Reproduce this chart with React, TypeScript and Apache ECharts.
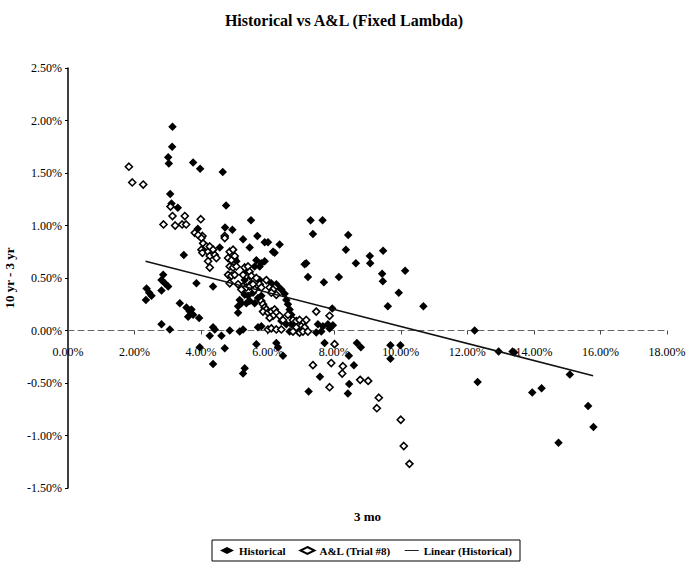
import React, { useEffect, useRef } from "react";
import * as echarts from "echarts";

// 3-month rate (%) vs 10yr - 3yr spread (%), observed history
const historical: number[][] = [
  [3.14, 1.94], [3.13, 1.75], [3.01, 1.65], [3.03, 1.59], [3.76, 1.6], [3.97, 1.54], [4.65, 1.51],
  [3.07, 1.3], [3.11, 1.21], [3.3, 1.17], [4.75, 1.19], [5.5, 1.05], [4.72, 0.98], [4.94, 0.96],
  [3.9, 0.97], [5.26, 0.87], [5.69, 0.9],
  [7.29, 1.05], [7.65, 1.05], [7.36, 0.92], [8.42, 0.91], [8.35, 0.77], [9.47, 0.76], [9.07, 0.71],
  [9.08, 0.64], [8.65, 0.64], [7.11, 0.63], [7.16, 0.64], [7.21, 0.51], [8.14, 0.51], [7.69, 0.46],
  [10.13, 0.57], [9.44, 0.54], [9.46, 0.47], [9.94, 0.36], [9.61, 0.23], [10.68, 0.23], [6.36, 0.82],
  [7.94, 0.21], [12.22, 0.0],
  [7.66, 0.04], [7.81, 0.06], [7.96, 0.05], [7.86, 0.02], [7.51, 0.06], [7.46, -0.02], [7.61, -0.01],
  [7.71, -0.12], [8.68, -0.12], [8.8, -0.16], [9.69, -0.14], [9.99, -0.14], [9.69, -0.27], [6.46, -0.24],
  [8.44, -0.24], [8.59, -0.33], [7.57, -0.44], [8.45, -0.51], [8.41, -0.6], [7.23, -0.58], [12.31, -0.49],
  [12.94, -0.2], [13.36, -0.2], [13.41, -0.21], [15.08, -0.42], [13.95, -0.59], [14.23, -0.55],
  [15.63, -0.72], [15.79, -0.92], [14.74, -1.07],
  [3.48, 0.72], [2.86, 0.53], [2.81, 0.48], [2.91, 0.45], [3.01, 0.42], [2.81, 0.38], [3.86, 0.45],
  [4.36, 0.42], [2.36, 0.4], [2.44, 0.36], [2.34, 0.29], [2.51, 0.33], [3.36, 0.26], [3.56, 0.22],
  [3.66, 0.18], [3.76, 0.15], [3.94, 0.12], [3.61, 0.13], [3.71, 0.2], [2.81, 0.06], [3.06, 0.01],
  [4.41, 0.01], [4.26, -0.05], [3.96, -0.16],
  [4.56, 0.79], [5.46, 0.79], [5.91, 0.84], [6.01, 0.84], [6.16, 0.75], [6.21, 0.74],
  [5.66, 0.67], [5.81, 0.64], [5.91, 0.66], [5.76, 0.61], [5.61, 0.61], [5.36, 0.58], [5.46, 0.52],
  [5.31, 0.48], [5.51, 0.45], [5.76, 0.48], [6.11, 0.45], [6.26, 0.44], [5.06, 0.66], [5.01, 0.69],
  [5.11, 0.17], [6.31, 0.42], [6.41, 0.39], [5.16, 0.29], [5.11, 0.23], [5.21, 0.26], [5.31, 0.34],
  [5.41, 0.33], [5.56, 0.36], [5.46, 0.28], [5.36, 0.26], [5.61, 0.26], [5.71, 0.31], [5.81, 0.33],
  [6.56, 0.29], [6.61, 0.25], [6.66, 0.2], [6.71, 0.15], [6.41, 0.09], [6.56, 0.06], [6.71, 0.06],
  [6.66, -0.01], [6.91, -0.01], [6.51, 0.35],
  [4.86, 0.0], [5.16, -0.01], [5.26, 0.01], [5.71, 0.03], [5.81, 0.04], [4.61, -0.05], [4.36, 0.03],
  [4.71, -0.17], [4.36, -0.32], [5.66, -0.13], [6.26, -0.12], [6.31, -0.16], [5.31, -0.36], [5.26, -0.41],
];

// Model output, A&L (Trial #8)
const alModel: number[][] = [
  [1.83, 1.56], [1.93, 1.41], [2.26, 1.39], [3.08, 1.18], [3.14, 1.09], [2.87, 1.01], [3.22, 1.0],
  [3.43, 1.01], [3.55, 1.01], [3.51, 1.09], [3.99, 1.06], [4.04, 0.9], [4.71, 0.9],
  [3.81, 0.93], [3.91, 0.91], [4.01, 0.88], [4.06, 0.83], [4.01, 0.77], [4.04, 0.74], [4.16, 0.8],
  [4.21, 0.75], [4.26, 0.71], [4.21, 0.66], [4.26, 0.6], [4.71, 0.88], [4.26, 0.8], [4.36, 0.77],
  [4.41, 0.72], [4.46, 0.69],
  [4.86, 0.75], [4.96, 0.77], [4.81, 0.69], [4.91, 0.67], [5.01, 0.71], [4.86, 0.61], [4.96, 0.6],
  [5.06, 0.61], [4.81, 0.53], [4.91, 0.52], [5.01, 0.53], [5.31, 0.6], [5.41, 0.61], [5.46, 0.56],
  [5.36, 0.52], [5.26, 0.53], [5.51, 0.52], [4.86, 0.45], [5.11, 0.44], [5.26, 0.42], [5.66, 0.5],
  [5.76, 0.44], [5.96, 0.48], [6.06, 0.41], [6.21, 0.41],
  [5.36, 0.41], [5.21, 0.39], [5.46, 0.42], [5.56, 0.44], [5.61, 0.39], [5.81, 0.41], [6.16, 0.39],
  [6.26, 0.34], [6.11, 0.36],
  [5.81, 0.28], [5.86, 0.25], [5.91, 0.22], [5.96, 0.2], [5.86, 0.18], [6.01, 0.17], [6.11, 0.18],
  [6.21, 0.2], [6.26, 0.17], [6.16, 0.14], [6.06, 0.12], [6.36, 0.14], [6.46, 0.1],
  [6.61, 0.15], [6.76, 0.1], [6.86, 0.09], [6.96, 0.1], [7.06, 0.07], [7.16, 0.1], [7.01, 0.04],
  [7.11, 0.03], [6.86, 0.03], [6.76, -0.01], [6.96, -0.02], [7.06, -0.01], [7.21, -0.01],
  [6.01, 0.01], [6.11, 0.02], [6.26, 0.01], [6.41, 0.01], [7.46, 0.18], [7.86, 0.14],
  [8.01, -0.13], [7.91, -0.31], [7.36, -0.33], [8.26, -0.34], [8.24, -0.41], [8.78, -0.47],
  [9.02, -0.48], [7.86, -0.54], [9.34, -0.64], [9.28, -0.74], [10.0, -0.85], [10.09, -1.1],
  [10.26, -1.27],
];

// Endpoints of the linear trend fitted to the historical series
const trendLine: number[][] = [
  [2.33, 0.66],
  [15.78, -0.43],
];

const seriesNames = ["Historical", "A&L (Trial #8)", "Linear (Historical)"];

const FONT = "'Liberation Serif', 'DejaVu Serif', serif";

// Plot box and value ranges
const GRID = { left: 68, right: 21, top: 68, bottom: 75 };
const Y_MIN = -1.5;
const Y_MAX = 2.5;
const CHART_H = 563;

export default function App() {
  const ref = useRef<HTMLDivElement>(null);

  useEffect(() => {
    if (!ref.current) return;
    const chart = echarts.init(ref.current, null, { renderer: "svg" });
    const pct = (v: number) => v.toFixed(2) + "%";
    // lift the x axis from the plot bottom up to the y = 0 line
    const plotH = CHART_H - GRID.top - GRID.bottom;
    const zeroLift = (plotH * (0 - Y_MIN)) / (Y_MAX - Y_MIN);
    chart.setOption({
      animation: false,
      backgroundColor: "#fff",
      textStyle: { fontFamily: FONT, color: "#000" },
      title: {
        text: "Historical vs A&L (Fixed Lambda)",
        left: "center",
        top: 7,
        textStyle: { fontFamily: FONT, fontSize: 16, fontWeight: "bold", color: "#000" },
      },
      legend: {
        data: [
          { name: seriesNames[0] },
          { name: seriesNames[1] },
          { name: seriesNames[2], icon: "path://M0,0 L24,0 L24,1.6 L0,1.6 Z" },
        ],
        left: 212,
        top: 540,
        borderColor: "#000",
        borderWidth: 1,
        borderRadius: 0,
        padding: [5, 8, 5, 8],
        itemGap: 14,
        itemWidth: 14,
        itemHeight: 7,
        textStyle: { fontFamily: FONT, fontSize: 11, fontWeight: "bold", color: "#000" },
      },
      grid: { ...GRID, containLabel: false, outerBoundsMode: "none" },
      xAxis: {
        type: "value",
        min: 0,
        max: 18,
        interval: 2,
        offset: -zeroLift,
        name: "3 mo",
        nameLocation: "middle",
        nameGap: 179,
        nameTextStyle: { fontFamily: FONT, fontSize: 13, fontWeight: "bold", color: "#000" },
        axisLine: { onZero: false, lineStyle: { color: "#666", width: 1, type: [6, 4] } },
        axisTick: { show: true, length: 4, lineStyle: { color: "#444" } },
        axisLabel: { formatter: pct, fontFamily: FONT, fontSize: 12, color: "#000", margin: 15 },
        splitLine: { show: false },
      },
      yAxis: {
        type: "value",
        min: Y_MIN,
        max: Y_MAX,
        interval: 0.5,
        name: "10 yr - 3 yr",
        nameLocation: "middle",
        nameGap: 52,
        nameTextStyle: { fontFamily: FONT, fontSize: 13, fontWeight: "bold", color: "#000" },
        axisLine: { onZero: false, show: true, lineStyle: { color: "#000", width: 1.5 } },
        axisTick: { show: true, length: 3, lineStyle: { color: "#000" } },
        axisLabel: { formatter: pct, fontFamily: FONT, fontSize: 12, color: "#000", margin: 6 },
        splitLine: { show: false },
      },
      series: [
        {
          name: seriesNames[0],
          type: "scatter",
          symbol: "diamond",
          symbolSize: 8.5,
          itemStyle: { color: "#000", opacity: 1 },
          data: historical,
          z: 3,
        },
        {
          name: seriesNames[1],
          type: "scatter",
          symbol: "diamond",
          symbolSize: 7,
          itemStyle: { color: "#fff", borderColor: "#000", borderWidth: 1.6, opacity: 1 },
          data: alModel,
          z: 4,
        },
        {
          name: seriesNames[2],
          type: "line",
          symbol: "none",
          lineStyle: { color: "#111", width: 1.5 },
          itemStyle: { color: "#111" },
          data: trendLine,
          z: 5,
        },
      ],
    });
    return () => chart.dispose();
  }, []);

  return <div ref={ref} style={{ width: 688, height: CHART_H, position: "absolute", left: 0, top: 0 }} />;
}
